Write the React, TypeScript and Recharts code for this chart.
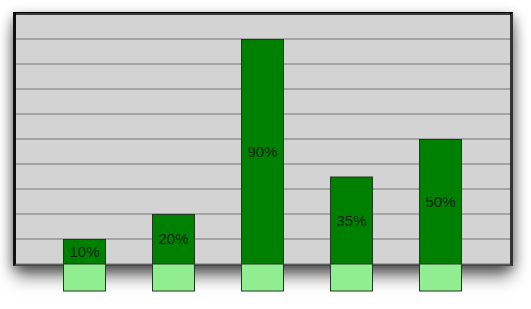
import React from "react";
import { BarChart, Bar, XAxis, YAxis, CartesianGrid, LabelList } from "recharts";

// Chart data
const categories = ["A", "B", "C", "D", "E"];
const percentValues = [10, 20, 90, 35, 50];
const gridTicks = [10, 20, 30, 40, 50, 60, 70, 80, 90];

const data = categories.map((name, i) => ({ name, value: percentValues[i] }));

const DARK_GREEN = "#008000";
const LIGHT_GREEN = "#90ee90";
const OUTLINE = "#1f3a1f";
const BASE_DEPTH = 27;

// Bar with a light-green plinth that hangs below the zero line
const PlinthBar = (props: any) => {
  const { x, y, width, height } = props;
  if (x == null || y == null) return null;
  const bottom = y + height;
  return (
    <g>
      <rect x={x + 0.5} y={y + 0.5} width={width - 1} height={Math.max(height - 0.5, 0)} fill={DARK_GREEN} stroke={OUTLINE} strokeWidth={1} />
      <rect x={x + 0.5} y={bottom} width={width - 1} height={BASE_DEPTH} fill={LIGHT_GREEN} stroke={OUTLINE} strokeWidth={1} />
    </g>
  );
};

export default function App() {
  return (
    <div style={{ position: "relative", width: 531, height: 309, background: "#ffffff" }}>
      <style>{"body{margin:0}"}</style>
      {/* framed gray panel behind the plot */}
      <div
        style={{
          position: "absolute",
          left: 13,
          top: 12,
          width: 500,
          height: 254,
          boxSizing: "border-box",
          background: "#d3d3d3",
          borderTop: "3px solid #000",
          borderLeft: "3px solid #111",
          borderRight: "3px solid #333",
          borderBottom: "2px solid #444",
          boxShadow: "0 12px 16px -2px rgba(0,0,0,0.55), -3px 3px 10px rgba(0,0,0,0.2), 4px 3px 10px rgba(0,0,0,0.2)",
        }}
      />
      <div style={{ position: "absolute", left: 0, top: 0 }}>
        <BarChart
          width={531}
          height={309}
          data={data}
          margin={{ top: 14, right: 21, bottom: 45, left: 16 }}
          barSize={43}
        >
          <CartesianGrid vertical={false} stroke="#757575" strokeWidth={1} />
          <XAxis dataKey="name" hide padding={{ left: 24, right: 25 }} />
          <YAxis hide domain={[0, 100]} ticks={gridTicks} />
          <Bar dataKey="value" shape={<PlinthBar />} isAnimationActive={false}>
            <LabelList
              dataKey="value"
              position="center"
              formatter={(v: any) => `${v}%`}
              fill="#0c260c"
              fontSize={15}
              fontFamily="Liberation Sans, Arial, sans-serif"
            />
          </Bar>
        </BarChart>
      </div>
    </div>
  );
}
